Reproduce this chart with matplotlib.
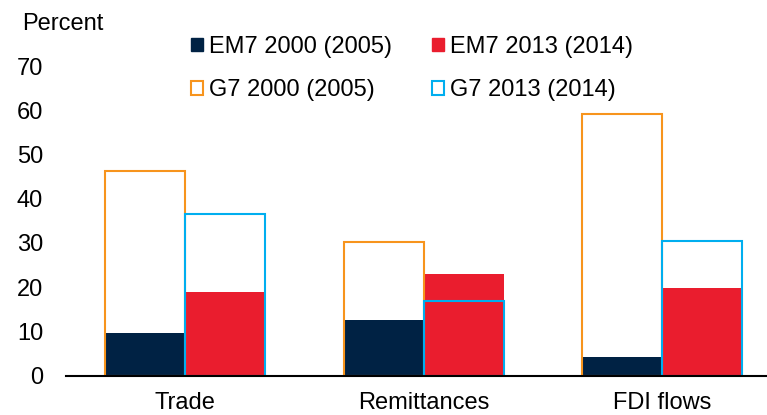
import matplotlib.pyplot as plt
from matplotlib.patches import Patch
import numpy as np

plt.rcParams['font.family'] = ['Liberation Sans', 'DejaVu Sans']

categories = ['Trade', 'Remittances', 'FDI flows']
em7_2000 = [9.6, 12.6, 4.2]
em7_2013 = [19.0, 22.9, 19.9]
g7_2000 = [46.3, 30.2, 59.1]
g7_2013 = [36.5, 16.9, 30.4]

navy = '#002244'
red = '#EA1D2E'
orange = '#F7941D'
blue = '#00AEEF'

fig = plt.figure(figsize=(7.67, 4.15), dpi=100)
ax = fig.add_axes([66 / 767, 1 - 375.7 / 415, 701 / 767, (375.7 - 66) / 415])

x = np.arange(len(categories))
w = 0.335

# filled EM7 bars first, G7 outlines drawn on top
ax.bar(x - w / 2, em7_2000, w, color=navy, zorder=2)
ax.bar(x + w / 2, em7_2013, w, color=red, zorder=2)
ax.bar(x - w / 2, g7_2000, w, facecolor='none', edgecolor=orange, linewidth=1.5, zorder=3)
ax.bar(x + w / 2, g7_2013, w, facecolor='none', edgecolor=blue, linewidth=1.5, zorder=3)

ax.set_xlim(-0.5, 2.44)
ax.set_ylim(0, 70)
ax.set_yticks(range(0, 71, 10))
ax.set_xticks(x)
ax.set_xticklabels(categories)
ax.tick_params(axis='both', length=0, labelsize=17)
ax.tick_params(axis='y', pad=16.5)
ax.tick_params(axis='x', pad=12)

for s in ['top', 'right', 'left']:
    ax.spines[s].set_visible(False)
ax.spines['bottom'].set_linewidth(1.5)
ax.spines['bottom'].set_zorder(4)

fig.text(22 / 767, 1 - 24 / 415, 'Percent', fontsize=17, va='center', ha='left')

handles = [
    Patch(facecolor=navy, edgecolor=navy, label='EM7 2000 (2005)'),
    Patch(facecolor='white', edgecolor=orange, linewidth=1.5, label='G7 2000 (2005)'),
    Patch(facecolor=red, edgecolor=red, label='EM7 2013 (2014)'),
    Patch(facecolor='white', edgecolor=blue, linewidth=1.5, label='G7 2013 (2014)'),
]
leg = fig.legend(handles=handles, ncol=2, loc='upper left',
                 bbox_to_anchor=(191 / 767, 1 - 36 / 415), frameon=False,
                 fontsize=17, handlelength=0.5, handleheight=0.5,
                 handletextpad=0.25, columnspacing=1.7, labelspacing=0.9,
                 borderpad=0, borderaxespad=0)

fig.savefig('out.png', dpi=100)
